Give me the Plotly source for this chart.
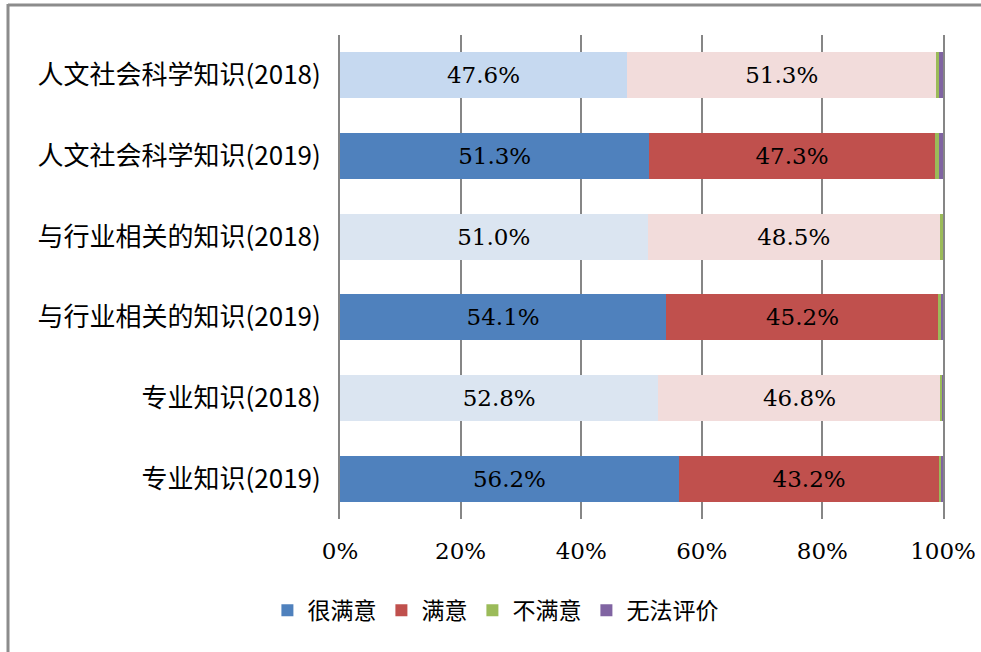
import plotly.graph_objects as go

# categories listed bottom-to-top (Plotly draws first category at the bottom)
categories = ["专业知识(2019)", "专业知识(2018)", "与行业相关的知识(2019)",
              "与行业相关的知识(2018)", "人文社会科学知识(2019)", "人文社会科学知识(2018)"]
very_satisfied = [56.2, 52.8, 54.1, 51.0, 51.3, 47.6]
satisfied = [43.2, 46.8, 45.2, 48.5, 47.3, 51.3]
dissatisfied = [0.2, 0.3, 0.3, 0.5, 0.7, 0.5]
no_opinion = [0.4, 0.1, 0.4, 0.0, 0.7, 0.6]

series_names = ["很满意", "满意", "不满意", "无法评价"]
x_ticks = [0, 20, 40, 60, 80, 100]
x_tick_text = ["0%", "20%", "40%", "60%", "80%", "100%"]

blue_colors = ["#4F81BD", "#DBE5F1", "#4F81BD", "#DBE5F1", "#4F81BD", "#C6D9F0"]
red_colors = ["#C0504D", "#F2DCDB", "#C0504D", "#F2DCDB", "#C0504D", "#F2DCDB"]
green_color = "#9BBB59"
purple_color = "#8064A2"

label_font = dict(family="DejaVu Serif", size=23, color="#000000")

fig = go.Figure()
fig.add_trace(go.Bar(y=categories, x=very_satisfied, orientation="h", name=series_names[0],
                     marker=dict(color=blue_colors, line=dict(width=0)),
                     texttemplate="%{x:.1f}%", textposition="inside",
                     insidetextanchor="middle", textfont=label_font))
fig.add_trace(go.Bar(y=categories, x=satisfied, orientation="h", name=series_names[1],
                     marker=dict(color=red_colors, line=dict(width=0)),
                     texttemplate="%{x:.1f}%", textposition="inside",
                     insidetextanchor="middle", textfont=label_font))
fig.add_trace(go.Bar(y=categories, x=dissatisfied, orientation="h", name=series_names[2],
                     marker=dict(color=green_color, line=dict(width=0))))
fig.add_trace(go.Bar(y=categories, x=no_opinion, orientation="h", name=series_names[3],
                     marker=dict(color=purple_color, line=dict(width=0))))

W, H = 981, 652
L, R, T, B = 340, 38, 35, 133
pw, ph = W - L - R, H - T - B

def px_x(p):
    return (p - L) / pw

def px_y(p):
    return (H - B - p) / ph

frame = dict(color="#8C8C8C", width=3)
shapes = [
    dict(type="line", xref="paper", yref="paper", x0=px_x(8), x1=px_x(W + 5),
         y0=px_y(5), y1=px_y(5), line=frame),
    dict(type="line", xref="paper", yref="paper", x0=px_x(8), x1=px_x(8),
         y0=px_y(4), y1=px_y(H + 5), line=frame),
]

fig.update_layout(
    width=W, height=H,
    barmode="stack", bargap=0.43,
    plot_bgcolor="white", paper_bgcolor="white",
    margin=dict(l=L, r=R, t=T, b=B, autoexpand=False),
    shapes=shapes,
    uniformtext=dict(minsize=10, mode="show"),
    xaxis=dict(range=[0, 100], tickvals=x_ticks, ticktext=x_tick_text,
               showgrid=True, gridcolor="#868686", gridwidth=2, zeroline=False,
               showline=False, ticks="", ticklabelstandoff=16, automargin=False,
               tickfont=dict(family="DejaVu Serif", size=23, color="#000000")),
    yaxis=dict(showgrid=False, zeroline=False, showline=True, mirror=True,
               linecolor="#868686", linewidth=2, ticks="",
               ticklabelstandoff=12, automargin=False,
               tickfont=dict(family="Noto Sans CJK SC", size=26, color="#000000")),
    legend=dict(orientation="h", xref="container", yref="container",
                x=0.505, xanchor="center", y=0.064, yanchor="middle",
                font=dict(family="Noto Sans CJK SC", size=23, color="#000000"),
                traceorder="normal", itemwidth=30),
    showlegend=True,
)

fig.write_html(
    "out.html",
    config={"displayModeBar": False},
    post_script="document.body.style.margin='0';document.body.style.overflow='hidden';",
)
